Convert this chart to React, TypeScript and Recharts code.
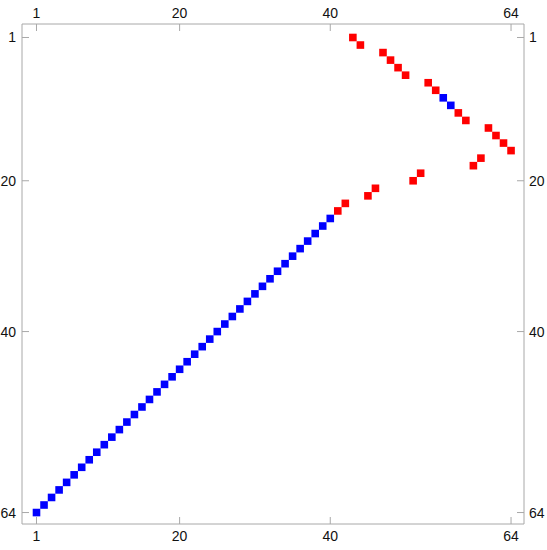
import { Scatter, ScatterChart, XAxis, YAxis } from 'recharts';

// matrix columns / rows of the non-zero cells
const blueCols = [1, 2, 3, 4, 5, 6, 7, 8, 9, 10, 11, 12, 13, 14, 15, 16, 17, 18, 19, 20, 21, 22, 23, 24, 25, 26, 27, 28, 29, 30, 31, 32, 33, 34, 35, 36, 37, 38, 39, 40, 55, 56];
const blueRows = [64, 63, 62, 61, 60, 59, 58, 57, 56, 55, 54, 53, 52, 51, 50, 49, 48, 47, 46, 45, 44, 43, 42, 41, 40, 39, 38, 37, 36, 35, 34, 33, 32, 31, 30, 29, 28, 27, 26, 25, 9, 10];

const redCols = [43, 44, 47, 48, 49, 50, 53, 54, 57, 58, 61, 62, 63, 64, 60, 59, 52, 51, 46, 45, 42, 41];
const redRows = [1, 2, 3, 4, 5, 6, 7, 8, 11, 12, 13, 14, 15, 16, 17, 18, 19, 20, 21, 22, 23, 24];

const tickValues = [1, 20, 40, 64];

const bluePoints = blueCols.map((c, i) => ({ col: c, row: blueRows[i] }));
const redPoints = redCols.map((c, i) => ({ col: c, row: redRows[i] }));

const FRAME = '#a8a8a8';
const CELL = 7.6;

const cell = (color: string) => (props: any) => {
  const { cx, cy } = props;
  return <rect x={cx - CELL / 2} y={cy - CELL / 2} width={CELL} height={CELL} fill={color} />;
};

const makeTick = (side: 'top' | 'bottom' | 'left' | 'right') => (props: any) => {
  const { x, y, payload } = props;
  const label = String(payload.value);
  const font = { fontFamily: 'Liberation Sans, Arial, sans-serif', fontSize: 14, fill: '#111' };
  if (side === 'top')
    return (
      <g>
        <line x1={x} x2={x} y1={y} y2={y + 7} stroke={FRAME} />
        <text x={x} y={y - 6} textAnchor="middle" {...font}>{label}</text>
      </g>
    );
  if (side === 'bottom')
    return (
      <g>
        <line x1={x} x2={x} y1={y} y2={y - 7} stroke={FRAME} />
        <text x={x} y={y + 17} textAnchor="middle" {...font}>{label}</text>
      </g>
    );
  if (side === 'left')
    return (
      <g>
        <line x1={x} x2={x + 7} y1={y} y2={y} stroke={FRAME} />
        <text x={x - 6} y={y + 5} textAnchor="end" {...font}>{label}</text>
      </g>
    );
  return (
    <g>
      <line x1={x} x2={x - 7} y1={y} y2={y} stroke={FRAME} />
      <text x={x + 5} y={y + 5} textAnchor="start" {...font}>{label}</text>
    </g>
  );
};

const xDomain: [number, number] = [-0.925, 65.72];
const yDomain: [number, number] = [-0.79, 65.52];

export default function App() {
  return (
    <div style={{ position: 'absolute', left: 0, top: 0, background: '#fff' }}>
      <ScatterChart width={547} height={550} margin={{ top: 0, right: 0, bottom: 0, left: 0 }}>
        <XAxis xAxisId="b" orientation="bottom" type="number" dataKey="col" domain={xDomain} allowDataOverflow
          ticks={tickValues} height={26} tickSize={0} tickMargin={0} tickLine={false} axisLine={{ stroke: FRAME }} tick={makeTick('bottom')} />
        <XAxis xAxisId="t" orientation="top" type="number" dataKey="col" domain={xDomain} allowDataOverflow
          ticks={tickValues} height={24} tickSize={0} tickMargin={0} tickLine={false} axisLine={{ stroke: FRAME }} tick={makeTick('top')} />
        <YAxis yAxisId="l" orientation="left" type="number" dataKey="row" domain={yDomain} allowDataOverflow reversed
          ticks={tickValues} width={22} tickSize={0} tickMargin={0} tickLine={false} axisLine={{ stroke: FRAME }} tick={makeTick('left')} />
        <YAxis yAxisId="r" orientation="right" type="number" dataKey="row" domain={yDomain} allowDataOverflow reversed
          ticks={tickValues} width={23} tickSize={0} tickMargin={0} tickLine={false} axisLine={{ stroke: FRAME }} tick={makeTick('right')} />
        <Scatter data={bluePoints} xAxisId="b" yAxisId="l" shape={cell('#0000ff')} isAnimationActive={false} />
        <Scatter data={redPoints} xAxisId="b" yAxisId="l" shape={cell('#ff0000')} isAnimationActive={false} />
      </ScatterChart>
    </div>
  );
}
